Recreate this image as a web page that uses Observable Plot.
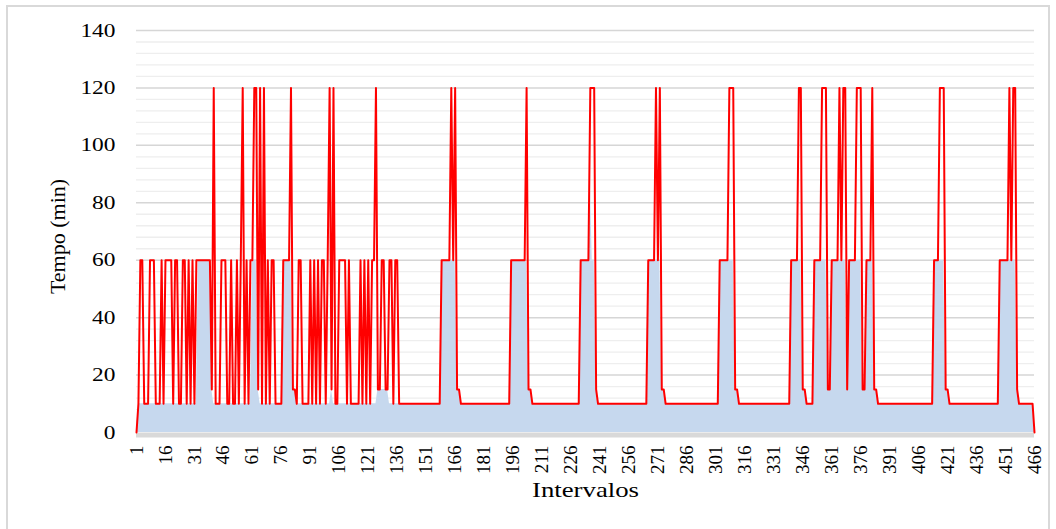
<!DOCTYPE html>
<html>
<head>
<meta charset="utf-8">
<script src="https://cdn.jsdelivr.net/npm/d3@7"></script>
<script src="https://cdn.jsdelivr.net/npm/@observablehq/plot@0.6"></script>
<style>
  html, body { margin: 0; padding: 0; background: #fff; overflow: hidden; }
  #wrap { position: relative; width: 1056px; height: 529px; }
  #frame { position: absolute; left: 6px; top: 5px; width: 1044px; height: 530px;
           border: 2px solid #d9d9d9; pointer-events: none; box-sizing: border-box; }
</style>
</head>
<body>
<div id="wrap"><div id="frame"></div></div>
<script>
// Number of intervals (categories 1..N)
const intervalCount = 466;

// Red line series: [first interval, value] – value holds until the next step
const redSteps = [
  [1,0],[2,10],[3,60],[5,10],[8,60],[11,10],[14,60],[15,10],[16,60],[20,10],[21,60],[23,10],
  [25,60],[27,10],[28,60],[29,10],[30,60],[31,10],[32,60],[40,15],[41,120],[42,10],[45,60],
  [48,10],[50,60],[51,10],[53,60],[54,10],[55,60],[56,120],[57,10],[58,60],[59,10],[60,60],
  [62,120],[64,15],[65,120],[66,10],[67,120],[68,10],[69,60],[70,10],[71,60],[73,10],[77,60],
  [81,120],[82,15],[84,10],[85,60],[87,10],[91,60],[92,10],[93,60],[94,10],[95,60],[96,10],
  [97,60],[99,10],[100,60],[101,120],[102,15],[103,120],[104,10],[106,60],[110,10],[111,60],
  [112,10],[117,60],[118,10],[119,60],[120,10],[121,60],[122,10],[123,60],[125,120],[126,15],
  [128,60],[130,15],[132,60],[134,10],[135,60],[137,10],
  [159,60],[164,120],[165,60],[166,120],[167,15],[169,10],
  [195,60],[203,120],[204,15],[206,10],
  [231,60],[236,120],[239,15],[240,10],
  [266,60],[270,120],[271,60],[272,120],[273,15],[275,10],
  [303,60],[308,120],[311,15],[313,10],
  [340,60],[344,120],[346,15],[348,10],[352,60],[356,120],[359,15],[361,60],[365,120],[366,60],
  [367,120],[369,15],[370,60],[374,120],[377,15],[379,60],[382,120],[383,15],[385,10],
  [414,60],[417,120],[420,15],[422,10],
  [448,60],[453,120],[454,60],[455,120],[457,15],[458,10],[466,0]
];

// Blue area series: [first interval, value]
const blueSteps = [
  [1,0],[2,10],[33,60],[40,15],[41,10],[61,60],[64,15],[65,10],[77,60],[82,15],[84,10],
  [102,15],[103,10],[126,15],[132,10],
  [159,60],[167,15],[169,10],
  [195,60],[204,15],[206,10],
  [231,60],[236,87],[237,60],[239,15],[240,10],
  [266,60],[273,15],[275,10],
  [303,60],[311,15],[313,10],
  [340,60],[346,15],[348,10],[352,60],[359,15],[361,60],[369,15],[370,60],[377,15],[379,60],
  [383,15],[385,10],
  [414,60],[420,15],[422,10],
  [448,60],[457,15],[458,10],[466,0]
];

const xTickLabels = [1,16,31,46,61,76,91,106,121,136,151,166,181,196,211,226,241,256,271,286,
  301,316,331,346,361,376,391,406,421,436,451,466];
const yTickLabels = [0,20,40,60,80,100,120,140];
const yMinorTicks = [4,8,12,16,24,28,32,36,44,48,52,56,64,68,72,76,84,88,92,96,104,108,112,116,124,128,132,136];

function expand(steps) {
  const out = [];
  let k = 0;
  for (let i = 1; i <= intervalCount; i++) {
    while (k + 1 < steps.length && steps[k + 1][0] <= i) k++;
    out.push(steps[k][1]);
  }
  return out;
}
const redVals = expand(redSteps);
const blueVals = expand(blueSteps);
const data = redVals.map((v, j) => ({x: j + 1, red: v, blue: blueVals[j]}));

const chart = Plot.plot({
  width: 1056,
  height: 529,
  marginLeft: 136,
  marginRight: 22,
  marginTop: 30,
  marginBottom: 97,
  style: {fontFamily: "'Liberation Serif', 'Times New Roman', serif", fontSize: "19px", color: "#000", background: "transparent"},
  x: {domain: [1, intervalCount], label: null},
  y: {domain: [0, 140], label: null},
  marks: [
    Plot.ruleY(yMinorTicks, {stroke: "#eeeeee", strokeWidth: 1.3}),
    Plot.ruleY(yTickLabels.filter(d => d > 0), {stroke: "#d6d6d6", strokeWidth: 1.5}),
    Plot.areaY(data, {x: "x", y: "blue", fill: "#c6d8ee", curve: "linear"}),
    Plot.ruleY([0], {stroke: "#d9d9d9", strokeWidth: 5, dy: 2.5}),
    Plot.line(data, {x: "x", y: "red", stroke: "#ff0000", strokeWidth: 2, curve: "linear"}),
    Plot.axisX({ticks: xTickLabels, tickFormat: d => String(d), tickSize: 0, tickPadding: 13, tickRotate: -90, label: null, fontSize: 19}),
    Plot.axisY({ticks: yTickLabels, tickSize: 0, tickPadding: 21, label: null, fontSize: 19}),
    Plot.text(["Intervalos"], {frameAnchor: "bottom", dy: 64, fontSize: 22, text: d => d}),
    Plot.text(["Tempo (min)"], {frameAnchor: "left", textAnchor: "middle", dx: -79, dy: 5, rotate: -90, fontSize: 22, text: d => d})
  ]
});

// The reference's horizontal text is drawn slightly wider; stretch glyphs to match.
chart.querySelectorAll('g[aria-label="y-axis tick label"] text').forEach(t => {
  const n = t.textContent.length;
  t.setAttribute("textLength", (11.7 * n).toFixed(1));
  t.setAttribute("lengthAdjust", "spacingAndGlyphs");
});
chart.querySelectorAll('text').forEach(t => {
  if (t.textContent === "Intervalos") {
    t.setAttribute("textLength", "107");
    t.setAttribute("lengthAdjust", "spacingAndGlyphs");
  }
});
document.getElementById("wrap").insertBefore(chart, document.getElementById("frame"));
</script>
</body>
</html>
